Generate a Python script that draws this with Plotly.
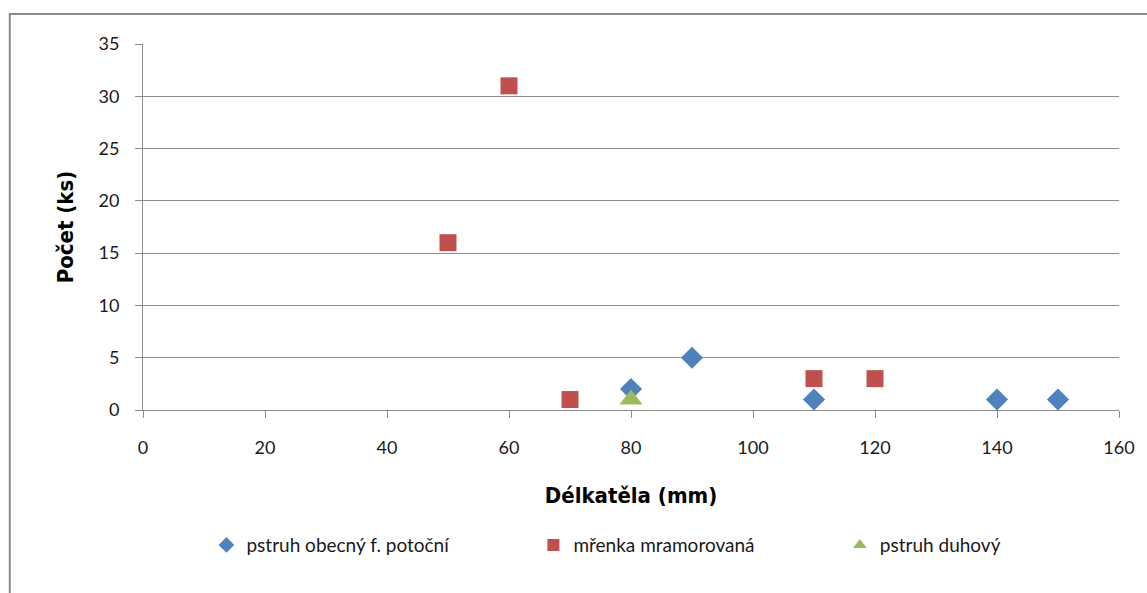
import plotly.graph_objects as go

# Length (mm) vs. count (pcs) per species
brown_trout_len = [80, 90, 110, 140, 150]
brown_trout_cnt = [2, 5, 1, 1, 1]

stone_loach_len = [50, 60, 70, 110, 120]
stone_loach_cnt = [16, 31, 1, 3, 3]

rainbow_trout_len = [80]
rainbow_trout_cnt = [1]

x_ticks = [0, 20, 40, 60, 80, 100, 120, 140, 160]
y_ticks = [0, 5, 10, 15, 20, 25, 30, 35]

title_font = dict(size=22, family="DejaVu Sans Condensed, Liberation Sans Narrow, sans-serif", color="#000")
legend_font = dict(size=19, family="Lato, sans-serif", color="#1a1a1a")

fig = go.Figure()
fig.add_trace(go.Scatter(
    x=brown_trout_len, y=brown_trout_cnt, mode="markers",
    name="pstruh obecný f. potoční", legend="legend",
    marker=dict(symbol="diamond", size=17, color="#4F81BD", line=dict(width=0)),
))
fig.add_trace(go.Scatter(
    x=stone_loach_len, y=stone_loach_cnt, mode="markers",
    name="mřenka mramorovaná", legend="legend2",
    marker=dict(symbol="square", size=17, color="#C0504D", line=dict(width=0)),
))
fig.add_trace(go.Scatter(
    x=rainbow_trout_len, y=rainbow_trout_cnt, mode="markers",
    name="pstruh duhový", legend="legend3",
    marker=dict(symbol="triangle-up", size=20, color="#9BBB59", line=dict(width=0)),
))

legend_common = dict(
    orientation="h", xanchor="left", y=-0.369, yanchor="middle",
    font=legend_font, itemsizing="constant", itemwidth=30,
    bgcolor="rgba(0,0,0,0)",
)

grid = "#8C8C8C"
fig.update_layout(
    width=1147, height=593,
    margin=dict(l=143, r=22, t=44, b=183),
    paper_bgcolor="white", plot_bgcolor="white",
    font=dict(family="Lato, Open Sans, sans-serif", size=18, color="#1a1a1a"),
    showlegend=True,
    legend=dict(x=0.065, **legend_common),
    legend2=dict(x=0.400, **legend_common),
    legend3=dict(x=0.714, **legend_common),
    xaxis=dict(
        range=[0, 160], tickvals=x_ticks, showgrid=False,
        showline=True, linecolor=grid, linewidth=1,
        ticks="outside", ticklen=7, tickcolor=grid,
        ticklabelstandoff=14, zeroline=False,
        title=dict(text="<b>Délkatěla (mm)</b>", standoff=31, font=title_font),
    ),
    yaxis=dict(
        range=[0, 35], tickvals=y_ticks, showgrid=True, gridcolor=grid, gridwidth=1,
        showline=True, linecolor=grid, linewidth=1,
        ticks="outside", ticklen=7, tickcolor=grid,
        ticklabelstandoff=12, zeroline=False,
        title=dict(text="<b>Počet (ks)</b>", standoff=18, font=title_font),
    ),
    shapes=[dict(
        type="rect", xref="paper", yref="paper",
        x0=-0.1365, x1=1.1, y0=-0.6, y1=1.082,
        line=dict(color="#8A8A8A", width=2), fillcolor="rgba(0,0,0,0)", layer="below",
    )],
)

fig.write_html("out.html")
